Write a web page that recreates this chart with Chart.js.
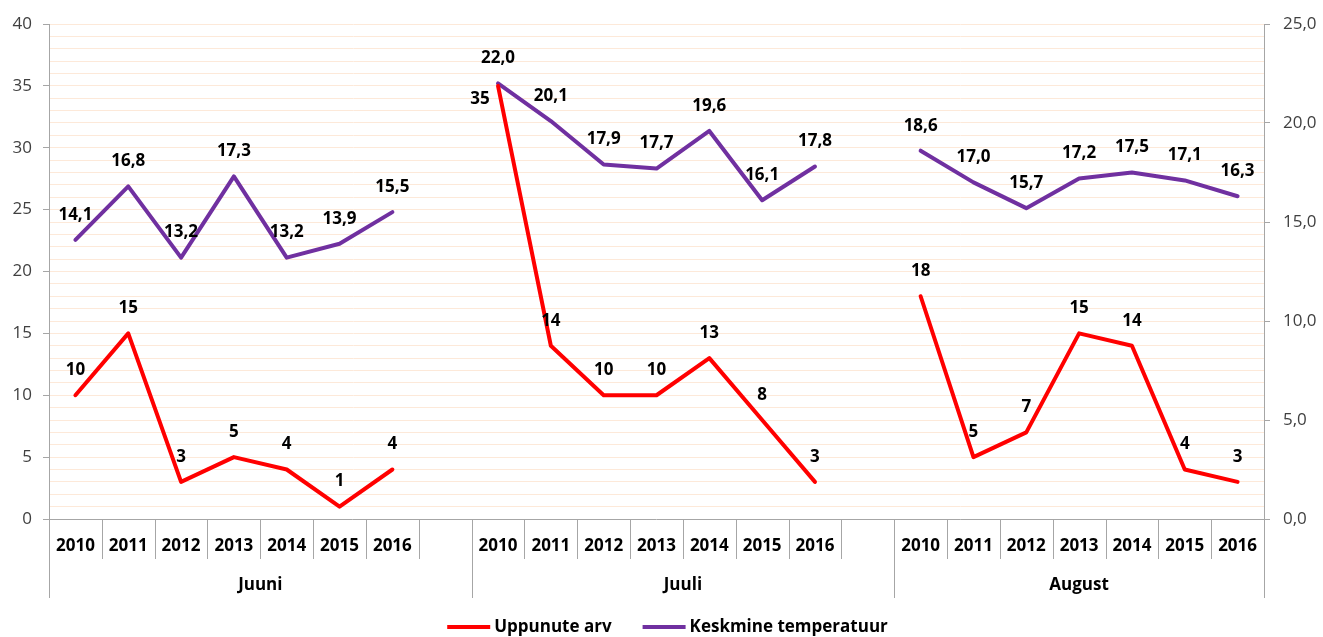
<!DOCTYPE html>
<html><head><meta charset="utf-8">
<script src="https://cdn.jsdelivr.net/npm/chart.js@4.4.1/dist/chart.umd.min.js"></script>
<style>html,body{margin:0;padding:0;background:#fff;overflow:hidden}</style>
</head><body>
<canvas id="c" width="1323" height="637"></canvas>
<script>
// ---- data ----
const months = ['Juuni', 'Juuli', 'August'];
const years = ['2010', '2011', '2012', '2013', '2014', '2015', '2016'];
const drownedJuuni = [10, 15, 3, 5, 4, 1, 4];
const drownedJuuli = [35, 14, 10, 10, 13, 8, 3];
const drownedAugust = [18, 5, 7, 15, 14, 4, 3];
const tempJuuni = [14.1, 16.8, 13.2, 17.3, 13.2, 13.9, 15.5];
const tempJuuli = [22.0, 20.1, 17.9, 17.7, 19.6, 16.1, 17.8];
const tempAugust = [18.6, 17.0, 15.7, 17.2, 17.5, 17.1, 16.3];
const seriesNames = ['Uppunute arv', 'Keskmine temperatuur'];
const leftAxisTicks = [0, 5, 10, 15, 20, 25, 30, 35, 40];
const rightAxisTicks = [0, 5, 10, 15, 20, 25];

// ---- build category table (empty slot between months) ----
const categories = [];
const groupOf = [];
const yearOf = [];
const drownedSeries = [];
const tempSeries = [];
const drownedByMonth = [drownedJuuni, drownedJuuli, drownedAugust];
const tempByMonth = [tempJuuni, tempJuuli, tempAugust];
months.forEach((m, mi) => {
  years.forEach((y, yi) => {
    categories.push(y); groupOf.push(mi); yearOf.push(yi);
    drownedSeries.push(drownedByMonth[mi][yi]);
    tempSeries.push(tempByMonth[mi][yi]);
  });
  if (mi < months.length - 1) {
    categories.push(''); groupOf.push(mi); yearOf.push(-1);
    drownedSeries.push(null); tempSeries.push(null);
  }
});

// ---- styling ----
const FONT = '"Open Sans", sans-serif';
const GRID = '#FDE9D9';
const AXIS = '#A6A6A6';
const TICKTXT = '#404040';
const LABEL_RISE = 25;
// label placement exception: dataset 0, month 1 (Juuli), year 0 -> left of point
const labelNudge = { '0:1:0': [-18, 38] };
const fmtTemp = v => v.toFixed(1).replace('.', ',');

const categoryAxisPlugin = {
  id: 'categoryAxis',
  afterDraw(chart) {
    const ctx = chart.ctx;
    const xs = chart.scales.x;
    const area = chart.chartArea;
    const n = categories.length;
    const w = (xs.right - xs.left) / n;
    ctx.save();
    ctx.strokeStyle = AXIS;
    ctx.lineWidth = 1;
    ctx.beginPath();
    ctx.moveTo(xs.left, Math.round(area.bottom) + 0.5);
    ctx.lineTo(xs.right, Math.round(area.bottom) + 0.5);
    ctx.stroke();
    for (let k = 0; k <= n; k++) {
      const x = Math.round(xs.left + k * w) + 0.5;
      const isGroupEdge = k === 0 || k === n || groupOf[k] !== groupOf[k - 1];
      ctx.beginPath();
      ctx.moveTo(x, area.bottom);
      ctx.lineTo(x, area.bottom + (isGroupEdge ? 79 : 40));
      ctx.stroke();
    }
    ctx.fillStyle = '#000';
    ctx.textAlign = 'center';
    ctx.textBaseline = 'middle';
    ctx.font = 'bold 17px ' + FONT;
    categories.forEach((c, i) => {
      if (c) ctx.fillText(c, xs.getPixelForValue(i), area.bottom + 27);
    });
    months.forEach((m, mi) => {
      const idx = groupOf.map((g, i) => g === mi ? i : -1).filter(i => i >= 0);
      const x0 = xs.left + idx[0] * w;
      const x1 = xs.left + (idx[idx.length - 1] + 1) * w;
      ctx.fillText(m, (x0 + x1) / 2, area.bottom + 66);
    });
    // legend
    ctx.font = 'bold 17px ' + FONT;
    const sample = 43, gapTxt = 4, gapItem = 31;
    const items = chart.data.datasets.map(d => ({ label: d.label, color: d.borderColor, tw: ctx.measureText(d.label).width }));
    let total = 0;
    items.forEach((it, i) => { total += sample + gapTxt + it.tw + (i ? gapItem : 0); });
    let x = chart.width / 2 + 6 - total / 2;
    const y = 627;
    ctx.textAlign = 'left';
    items.forEach(it => {
      ctx.strokeStyle = it.color; ctx.lineWidth = 4; ctx.lineCap = 'butt';
      ctx.beginPath(); ctx.moveTo(x, y); ctx.lineTo(x + sample, y); ctx.stroke();
      ctx.fillStyle = '#000';
      ctx.fillText(it.label, x + sample + gapTxt, y);
      x += sample + gapTxt + it.tw + gapItem;
    });
    ctx.restore();
  }
};

const dataLabelPlugin = {
  id: 'dataLabels',
  afterDatasetsDraw(chart) {
    const ctx = chart.ctx;
    ctx.save();
    ctx.font = 'bold 17px ' + FONT;
    ctx.fillStyle = '#000';
    ctx.textAlign = 'center';
    ctx.textBaseline = 'middle';
    chart.data.datasets.forEach((ds, di) => {
      const meta = chart.getDatasetMeta(di);
      meta.data.forEach((pt, i) => {
        const v = ds.data[i];
        if (v === null || v === undefined) return;
        const nudge = labelNudge[di + ':' + groupOf[i] + ':' + yearOf[i]] || [0, 0];
        const txt = di === 1 ? fmtTemp(v) : String(v);
        ctx.fillText(txt, pt.x + nudge[0], pt.y - LABEL_RISE + nudge[1]);
      });
    });
    ctx.restore();
  }
};

new Chart(document.getElementById('c'), {
  type: 'line',
  data: {
    labels: categories,
    datasets: [
      { label: seriesNames[0], data: drownedSeries, yAxisID: 'y', borderColor: '#FF0000', backgroundColor: '#FF0000',
        borderWidth: 4, pointRadius: 0, tension: 0, spanGaps: false, borderJoinStyle: 'round', borderCapStyle: 'round' },
      { label: seriesNames[1], data: tempSeries, yAxisID: 'y1', borderColor: '#7030A0', backgroundColor: '#7030A0',
        borderWidth: 4, pointRadius: 0, tension: 0, spanGaps: false, borderJoinStyle: 'round', borderCapStyle: 'round' }
    ]
  },
  options: {
    responsive: false,
    animation: false,
    devicePixelRatio: 1,
    layout: { padding: { top: 24, left: 0, right: 0, bottom: 0 } },
    plugins: { legend: { display: false }, tooltip: { enabled: false } },
    scales: {
      x: {
        type: 'category',
        offset: true,
        ticks: { display: false },
        grid: { display: false, drawTicks: false },
        border: { display: false },
        afterFit(s) { s.height = 118; }
      },
      y: {
        position: 'left',
        min: leftAxisTicks[0],
        max: leftAxisTicks[leftAxisTicks.length - 1],
        ticks: {
          stepSize: 1, autoSkip: false, padding: 11,
          color: TICKTXT, font: { family: FONT, size: 17 },
          callback: v => leftAxisTicks.includes(v) ? String(v) : ''
        },
        grid: {
          color: c => (c.tick && c.tick.value === 0) ? 'rgba(0,0,0,0)' : GRID,
          lineWidth: 1,
          drawTicks: true, tickLength: 6,
          tickColor: c => (c.tick && leftAxisTicks.includes(c.tick.value)) ? AXIS : 'rgba(0,0,0,0)'
        },
        border: { display: true, color: AXIS, width: 1 },
        afterFit(s) { s.width = 49; }
      },
      y1: {
        position: 'right',
        min: rightAxisTicks[0],
        max: rightAxisTicks[rightAxisTicks.length - 1],
        ticks: {
          stepSize: 5, padding: 13, color: TICKTXT, font: { family: FONT, size: 17 },
          callback: v => fmtTemp(v)
        },
        grid: { drawOnChartArea: false, drawTicks: true, tickLength: 6, tickColor: AXIS },
        border: { display: true, color: AXIS, width: 1 },
        afterFit(s) { s.width = 59; }
      }
    }
  },
  plugins: [categoryAxisPlugin, dataLabelPlugin]
});
</script>
</body></html>
